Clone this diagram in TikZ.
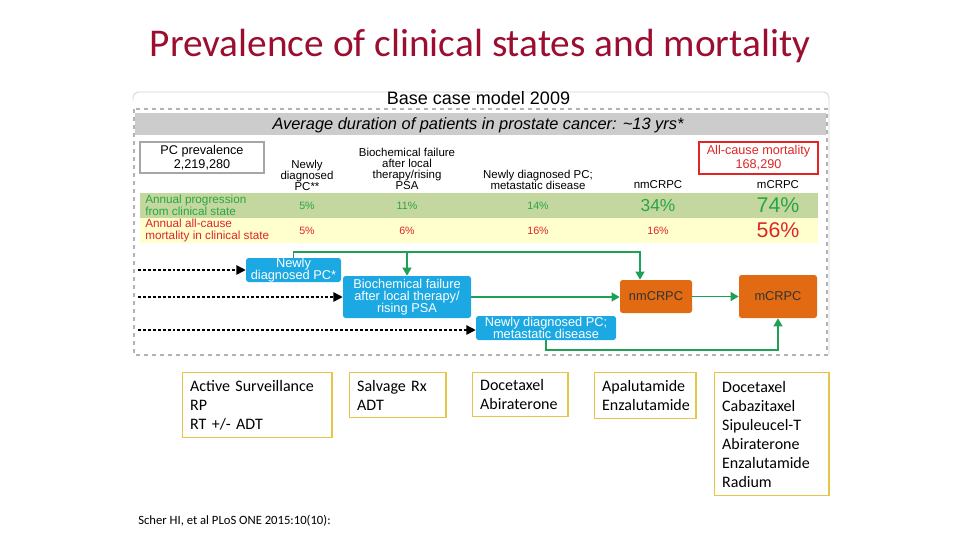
\documentclass[tikz,border=0pt]{standalone}
\usepackage{fontspec}
\setmainfont{Carlito}
\newfontfamily\arialfnt{Liberation Sans}
\usepackage{tikz}
\usetikzlibrary{arrows.meta, positioning, backgrounds, calc}
\usepackage{xcolor}

\definecolor{titlered}{RGB}{155,14,48}
\definecolor{boxblue}{RGB}{28,168,226}
\definecolor{boxorange}{RGB}{226,106,18}
\definecolor{arrgreen}{RGB}{30,160,85}
\definecolor{rowgreen}{RGB}{196,215,158}
\definecolor{rowyellow}{RGB}{255,255,206}
\definecolor{txtgreen}{RGB}{40,165,70}
\definecolor{txtred}{RGB}{222,38,38}
\definecolor{boxgold}{RGB}{230,198,72}

\newcommand\fsz[2]{\fontsize{#1}{#2}\selectfont}

\begin{document}
\begin{tikzpicture}[
    x=0.75pt, y=-0.75pt,
    every node/.style={inner sep=0pt},
    state/.style={fill=#1, rounded corners=2pt, align=center, font=\arialfnt\fsz{9.6}{9}},
    head/.style={align=center, font=\arialfnt\fsz{8.6}{8.2}},
    rowtxt/.style={anchor=west, align=left, text=#1, font=\arialfnt\fsz{8.8}{9}},
    pct/.style={text=#1, font=\arialfnt\fsz{8}{8}},
    drug/.style={draw=boxgold, line width=1pt, align=left, anchor=north west, inner xsep=6pt, font=\fsz{12}{14.25}},
    garr/.style={-{Triangle[length=6pt, width=6.5pt]}, draw=arrgreen, line width=1.4pt},
    darr/.style={-{Triangle[length=7pt, width=7pt]}, dash pattern=on 2.2pt off 1.5pt, line width=1.2pt},
]
    \useasboundingbox (0,0) rectangle (960,540);

    % Title
    \node[text=titlered, font=\fsz{29.5}{32}] (title) at (480,46) {Prevalence of clinical states and mortality};

    % Figure frame and header bar
    \draw[gray!35, line width=0.6pt, rounded corners=4pt] (133,100) -- (133,92) -- (829,92) -- (829,355);
    \draw[gray!60, dashed, line width=1.2pt] (134,109) rectangle (827,355);
    \node[fill=gray!40, minimum width=518pt, minimum height=16.5pt] (bar) at (480.5,124) {};
    \node[font=\arialfnt\fsz{13.5}{14}] (base) at (478.5,98) {Base case model 2009};
    \node[font=\arialfnt\itshape\fsz{12.3}{13}] (avg) at (478,125) {Average duration of patients in prostate cancer: \textasciitilde13 yrs*};

    % Prevalence and mortality boxes
    \node[draw=gray!70, line width=0.8pt, minimum width=93pt, minimum height=23.25pt, align=center, font=\arialfnt\fsz{9.5}{10.5}] (prev) at (202,157.5) {PC prevalence\\2,219,280};
    \node[draw=txtred, line width=0.8pt, minimum width=89.25pt, minimum height=24pt, align=center, text=txtred, font=\arialfnt\fsz{9.5}{10.5}] (allc) at (758.5,158) {All-cause mortality\\168,290};

    % Column headers
    \node[head] (h1) at (307,175) {Newly\\diagnosed\\PC**};
    \node[head] (h2) at (407,169) {Biochemical failure\\after local\\therapy/rising\\PSA};
    \node[head] (h3) at (538,180) {Newly diagnosed PC;\\metastatic disease};
    \node[head] (h4) at (658,185) {nmCRPC};
    \node[head] (h5) at (778,185) {mCRPC};

    % Table rows
    \node[fill=rowgreen, minimum width=508.5pt, minimum height=18.75pt] (prog) at (479,205.5) {};
    \node[fill=rowyellow, minimum width=508.5pt, minimum height=18.75pt] (mort) at (479,230.5) {};
    \node[rowtxt=txtgreen] (progl) at (145,205.5) {Annual progression\\from clinical state};
    \node[rowtxt=txtred] (mortl) at (145,230.5) {Annual all-cause\\mortality in clinical state};

    \node[pct=txtgreen] (p1) at (307,205.5) {5\%};
    \node[pct=txtgreen] (p2) at (407,205.5) {11\%};
    \node[pct=txtgreen] (p3) at (538,205.5) {14\%};
    \node[pct=txtgreen, font=\arialfnt\fsz{13}{13}] (p4) at (658,205.5) {34\%};
    \node[pct=txtgreen, font=\arialfnt\fsz{16}{16}] (p5) at (778,205.5) {74\%};
    \node[pct=txtred] (m1) at (307,230.5) {5\%};
    \node[pct=txtred] (m2) at (407,230.5) {6\%};
    \node[pct=txtred] (m3) at (538,230.5) {16\%};
    \node[pct=txtred] (m4) at (658,230.5) {16\%};
    \node[pct=txtred, font=\arialfnt\fsz{16}{16}] (m5) at (778,230.5) {56\%};

    % Clinical states
    \node[state=boxblue, text=white, minimum width=71.25pt, minimum height=18pt] (newdx) at (293.5,270) {Newly\\diagnosed PC*};
    \node[state=boxblue, text=white, minimum width=96pt, minimum height=31.5pt] (bcf) at (407,297) {Biochemical failure\\after local therapy/\\rising PSA};
    \node[state=boxblue, text=white, minimum width=105pt, minimum height=18pt] (meta) at (546,328) {Newly diagnosed PC;\\metastatic disease};
    \node[state=boxorange, text=black!80, minimum width=54pt, minimum height=24.75pt] (nmcrpc) at (656,296.5) {nmCRPC};
    \node[state=boxorange, text=black!80, minimum width=58.5pt, minimum height=32.25pt] (mcrpc) at (778,296.5) {mCRPC};

    % Entry arrows
    \coordinate (in1) at (138,270);
    \coordinate (in2) at (138,297);
    \coordinate (in3) at (138,330);
    \draw[darr] (in1) -- (newdx.west);
    \draw[darr] (in2) -- (bcf.west);
    \draw[darr] (in3) -- (in3 -| meta.west);

    % Progression arrows
    \coordinate (bus) at (407,252);
    \coordinate (nmin) at ([xshift=-12pt]nmcrpc.north);
    \draw[garr] (newdx.north) |- (bus) -| (nmin);
    \draw[garr] (bus) -- (bcf.north);
    \draw[garr] (bcf.east) -- (bcf.east -| nmcrpc.west);
    \draw[garr] (nmcrpc) -- (mcrpc);
    \draw[garr] (meta.south) -- ++(0,10) -| (mcrpc.south);

    % Treatments
    \node[drug, text width=100.25pt, minimum height=48.75pt] (rx1) at (181.5,372) {Active Surveillance\\RP\\RT +/- ADT};
    \node[drug, text width=60.5pt, minimum height=33.75pt, right=12pt of rx1.north east, anchor=north west] (rx2) {Salvage Rx\\ADT};
    \node[drug, text width=59.75pt, minimum height=33pt, right=18.75pt of rx2.north east, anchor=north west] (rx3) {Docetaxel\\Abiraterone};
    \node[drug, text width=64.25pt, minimum height=34.5pt, right=18.75pt of rx3.north east, anchor=north west] (rx4) {Apalutamide\\Enzalutamide};
    \node[drug, text width=74pt, minimum height=92.25pt, right=12.75pt of rx4.north east, anchor=north west] (rx5) {Docetaxel\\Cabazitaxel\\Sipuleucel-T\\Abiraterone\\Enzalutamide\\Radium};

    % Reference
    \node[anchor=west, font=\fsz{9.5}{11}] (cite) at (138,521) {Scher HI, et al PLoS ONE 2015:10(10):};
\end{tikzpicture}
\end{document}
